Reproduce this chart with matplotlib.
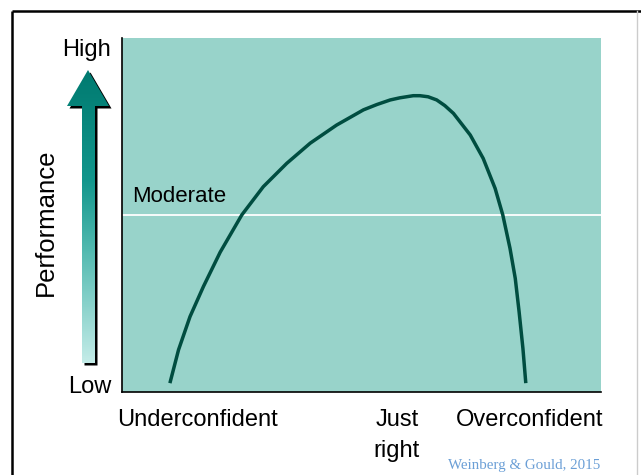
import numpy as np
import matplotlib
matplotlib.use('Agg')
import matplotlib.pyplot as plt
from matplotlib.patches import Polygon
from matplotlib.colors import LinearSegmentedColormap

plt.rcParams['font.family'] = ['Liberation Sans', 'DejaVu Sans']

# curve (x: confidence 0-100, y: performance 0-100)
curve_x = [10.0, 11.8, 14.2, 17.0, 20.5, 25.0, 29.5, 34.4, 39.3, 44.8, 50.4,
           53.2, 56.0, 58.0, 60.8, 62.2, 63.9, 65.7, 67.4, 69.2, 72.7, 75.4,
           77.9, 79.5, 81.0, 82.1, 82.9, 83.7, 84.3]
curve_y = [2.5, 11.9, 21.3, 29.8, 39.5, 50.0, 58.0, 64.6, 70.3, 75.4, 79.7,
           81.2, 82.5, 83.1, 83.7, 83.7, 83.4, 82.5, 80.9, 78.7, 72.6, 66.0,
           57.5, 50.0, 40.6, 32.1, 22.7, 12.3, 2.5]
moderate_level = 50.0
x_labels = ['Underconfident', 'Just\nright', 'Overconfident']
x_label_pos = [15.7, 57.4, 85.0]
y_labels = ['Low', 'High']
y_label_pos = [2.0, 97.2]

W, H = 641, 475
fig = plt.figure(figsize=(W / 100, H / 100), dpi=100)
fig.patch.set_facecolor('white')

# overlay in pixel coords for frame, arrow and loose text
ov = fig.add_axes([0, 0, 1, 1])
ov.set_xlim(0, W)
ov.set_ylim(H, 0)
ov.axis('off')
ov.plot([12, W], [11, 11], color='black', lw=1.8, solid_capstyle='butt')
ov.plot([12, 12], [11, H], color='black', lw=1.8, solid_capstyle='butt')
ov.plot([637, 637], [11, H], color='#cccccc', lw=1.0)

arrow_pts = [(88, 70), (109, 106), (95, 106), (95, 363), (82, 363), (82, 106), (67, 106)]
shadow = Polygon([(x + 2.5, y + 2.5) for x, y in arrow_pts], closed=True,
                 facecolor='black', edgecolor='none', zorder=2)
ov.add_patch(shadow)
body = Polygon(arrow_pts, closed=True, facecolor='none', edgecolor='none', zorder=3)
ov.add_patch(body)
cmap = LinearSegmentedColormap.from_list(
    'arr', [(0.0, '#007A70'), (0.375, '#12968C'), (0.61, '#50B9AF'), (1.0, '#C4ECE8')])
grad = np.linspace(0, 1, 256).reshape(-1, 1)
im = ov.imshow(grad, cmap=cmap, aspect='auto', extent=[60, 115, 363, 70], zorder=3)
im.set_clip_path(body)
ov.set_xlim(0, W)
ov.set_ylim(H, 0)

ov.text(46, 222, 'Performance', rotation=90, ha='center', va='center', fontsize=18.5)
ov.text(600, 466, 'Weinberg & Gould, 2015', ha='right', va='center', fontsize=10.8,
        color='#6b9fd6', family=['Liberation Serif', 'DejaVu Serif'])

# main chart
ax = fig.add_axes([122 / W, (H - 392) / H, 479 / W, 354 / H])
ax.set_facecolor('#98D3CA')
ax.set_xlim(0, 100)
ax.set_ylim(0, 100)
for s in ['top', 'right']:
    ax.spines[s].set_visible(False)
for s in ['left', 'bottom']:
    ax.spines[s].set_linewidth(1.2)
    ax.spines[s].set_color('black')

ax.axhline(moderate_level, color='white', lw=1.3)
ax.text(2.1, moderate_level + 2.2, 'Moderate', fontsize=16, va='bottom', ha='left')
ax.plot(curve_x, curve_y, color='#004D40', lw=2.5, solid_joinstyle='round',
        solid_capstyle='butt')

ax.set_xticks(x_label_pos)
ax.set_xticklabels(x_labels, fontsize=17, linespacing=1.55)
ax.set_yticks(y_label_pos)
ax.set_yticklabels(y_labels, fontsize=17)
ax.tick_params(axis='x', length=0, pad=12)
ax.tick_params(axis='y', length=0, pad=8)

fig.savefig('out.png', dpi=100)
